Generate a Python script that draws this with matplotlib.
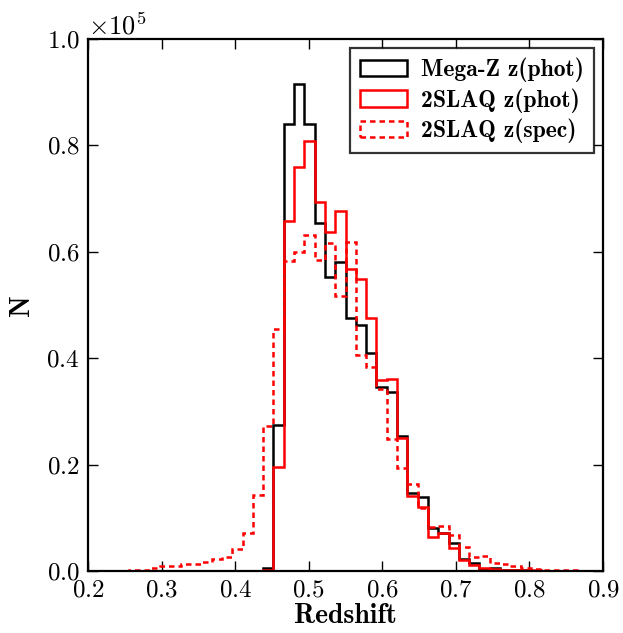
import numpy as np
import matplotlib
matplotlib.use('Agg')
import matplotlib.pyplot as plt

plt.rcParams['font.family'] = 'serif'
plt.rcParams['font.serif'] = ['cmr10']
plt.rcParams['mathtext.fontset'] = 'cm'
plt.rcParams['axes.unicode_minus'] = False
plt.rcParams['axes.formatter.use_mathtext'] = True

# 50 bins between 0.2 and 0.9 (width 0.014), counts in units of 1e5
edges = np.linspace(0.2, 0.9, 51)

megaz_phot = [0, 0, 0, 0, 0, 0, 0, 0, 0, 0,
              0, 0, 0, 0, 0, 0, 0, 0.005, 0.275, 0.841,
              0.915, 0.841, 0.654, 0.552, 0.580, 0.476, 0.462, 0.410, 0.346, 0.336,
              0.254, 0.146, 0.139, 0.080, 0.072, 0.053, 0.023, 0.016, 0.003, 0.006,
              0.002, 0.001, 0.001, 0, 0, 0, 0, 0, 0, 0]

slaq_phot = [0, 0, 0, 0, 0, 0, 0, 0, 0, 0,
             0, 0, 0, 0, 0, 0, 0, 0.002, 0.196, 0.658,
             0.760, 0.808, 0.694, 0.638, 0.677, 0.568, 0.549, 0.476, 0.359, 0.361,
             0.250, 0.141, 0.121, 0.064, 0.071, 0.043, 0.021, 0.011, 0.005, 0.004,
             0.002, 0.002, 0.001, 0.001, 0, 0, 0, 0, 0, 0]

slaq_spec = [0, 0, 0, 0.0005, 0.001, 0.002, 0.006, 0.009, 0.010, 0.013,
             0.014, 0.017, 0.023, 0.027, 0.041, 0.072, 0.143, 0.273, 0.455, 0.583,
             0.600, 0.632, 0.585, 0.616, 0.517, 0.619, 0.406, 0.384, 0.342, 0.248,
             0.194, 0.164, 0.118, 0.083, 0.085, 0.068, 0.046, 0.027, 0.028, 0.016,
             0.014, 0.010, 0.006, 0.004, 0.002, 0.001, 0.001, 0.001, 0.0005, 0]

labels = ['Mega-Z z(phot)', '2SLAQ z(phot)', '2SLAQ z(spec)']

centers = 0.5 * (edges[:-1] + edges[1:])

fig = plt.figure(figsize=(6.23, 6.33), dpi=100)
ax = fig.add_axes([0.1413, 0.0979, 0.8267, 0.8405])

ax.hist(centers, bins=edges, weights=np.array(megaz_phot) * 1e5,
        histtype='step', color='k', lw=1.8, label=labels[0])
ax.hist(centers, bins=edges, weights=np.array(slaq_phot) * 1e5,
        histtype='step', color='r', lw=1.8, label=labels[1])
ax.hist(centers, bins=edges, weights=np.array(slaq_spec) * 1e5,
        histtype='step', color='r', lw=1.8, ls=(0, (2.2, 1.6)), label=labels[2])

ax.set_xlim(0.2, 0.9)
ax.set_ylim(0, 1.0e5)
ax.set_xticks(np.arange(0.2, 0.91, 0.1))
ax.set_yticks(np.arange(0, 1.01e5, 0.2e5))
ax.ticklabel_format(axis='y', style='sci', scilimits=(0, 0), useMathText=True)
ax.yaxis.get_offset_text().set_fontsize(19)

ax.tick_params(direction='in', top=True, right=True, length=7, width=1,
               labelsize=18, pad=6)
for sp in ax.spines.values():
    sp.set_linewidth(1.6)

ax.set_xlabel('Redshift', fontsize=20, family='cmb10', labelpad=1)
ax.set_ylabel('N', fontsize=20, family='cmb10', labelpad=8)

leg = ax.legend(loc='upper right', prop={'family': 'cmb10', 'size': 17},
                frameon=True, fancybox=False, borderaxespad=0.4,
                handlelength=2.0, labelspacing=0.25, handletextpad=0.6)
leg.get_frame().set_edgecolor('k')
leg.get_frame().set_linewidth(1.6)

fig.savefig('out.png', dpi=100)
